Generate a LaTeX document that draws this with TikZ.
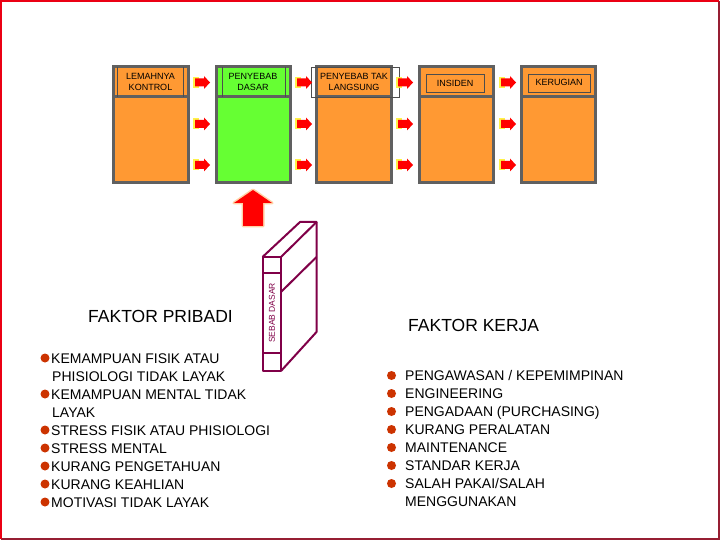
\documentclass[tikz,border=0pt]{standalone}
\usepackage{fontspec}
\setmainfont{Liberation Sans}
\definecolor{boxorange}{RGB}{255,153,51}
\definecolor{boxgreen}{RGB}{102,255,51}
\definecolor{boxgray}{RGB}{96,96,96}
\definecolor{bookc}{RGB}{128,0,72}
\definecolor{bullc}{RGB}{204,51,0}
\definecolor{frred}{RGB}{235,0,20}
\definecolor{frdark}{RGB}{150,30,50}
\definecolor{glowy}{RGB}{255,240,40}
\begin{document}
\begin{tikzpicture}[x=1pt,y=-1pt,
  box/.style={draw=boxgray, line width=3pt, fill=boxorange, minimum width=75pt, minimum height=116pt, inner sep=0pt, outer sep=0pt},
  hdr/.style={font=\fontsize{9}{11}\selectfont, align=center, inner sep=0pt},
  lst/.style={font=\fontsize{14}{18}\selectfont, anchor=base west, inner sep=0pt},
  ttl/.style={font=\fontsize{17.5}{20}\selectfont, anchor=base west, inner sep=0pt},
  bul/.style={circle, fill=bullc, minimum size=9pt, inner sep=0pt},
  thinframe/.style={draw=boxgray!80!black, line width=0.8pt},
  rarr/.pic={
    \fill[glowy, opacity=0.85] (-2.5,-5.5) rectangle (4,5.5);
    \fill[red] (0,-4) -- (9,-4) -- (9,-6.5) -- (15,0) -- (9,6.5) -- (9,4) -- (0,4) -- cycle;
  }
]
\useasboundingbox (0,0) rectangle (720,540);
\fill[white] (0,0) rectangle (720,540);
% frame
\draw[frdark, line width=2.5pt] (719,1) -- (719,539) -- (1,539);
\draw[frred, line width=2.5pt] (1,539) -- (1,1) -- (719,1);

% boxes
\node[box] (b1) at (150.5,125) {};
\node[box, fill=boxgreen, minimum width=74pt] (b2) at (253,125) {};
\node[box] (b3) at (354,125) {};
\node[box, minimum width=74pt] (b4) at (456,125) {};
\node[box, minimum width=74pt] (b5) at (558,125) {};
\foreach \b in {b1,b2,b3,b4,b5}{
  \draw[boxgray, line width=3pt] (\b.west |- 0,97) -- (\b.east |- 0,97);
}
% header frames
\draw[thinframe] (117,67) -- (117,97) (183.5,67) -- (183.5,97);
\draw[thinframe] (222.5,67) -- (222.5,97) (285,67) -- (285,97);
\draw[thinframe] (311,67) rectangle (399,97);
\draw[thinframe] (426,74) rectangle (484,92.5);
\draw[thinframe] (528,74) rectangle (590,92.5);

% header texts
\node[hdr] (t1) at (150.5,82) {LEMAHNYA\\KONTROL};
\node[hdr] (t2) at (253,82) {PENYEBAB\\DASAR};
\node[hdr] (t3) at (354,81.5) {PENYEBAB TAK\\LANGSUNG};
\node[hdr] (t4) at (455,83) {INSIDEN};
\node[hdr] (t5) at (559,82.5) {KERUGIAN};

% arrows between boxes
\foreach \x in {195,297,398,501}{
  \foreach \y in {82.5,124,165}{
    \pic at (\x,\y) {rarr};
  }
}

% up arrow
\filldraw[draw=orange!35, line width=3pt, line join=round, fill=red]
  (243,226) -- (243,203) -- (234,203) -- (253,190) -- (272,203) -- (263,203) -- (263,226) -- cycle;
\fill[red] (243,226) -- (243,203) -- (234,203) -- (253,190) -- (272,203) -- (263,203) -- (263,226) -- cycle;

% book
\begin{scope}[draw=bookc, line width=2pt, line join=round]
  \draw (262.5,257) rectangle (281,371);
  \draw (262.5,273) -- (281,273);
  \draw (262.5,353) -- (281,353);
  \draw (262.5,257) -- (300,222) -- (316.5,222) -- (281,257);
  \draw (316.5,222) -- (316.5,332) -- (281,371);
  \draw (281,292) -- (316.5,257);
\end{scope}
\node[rotate=90, font=\fontsize{8.5}{10}\selectfont, text=bookc, inner sep=0pt] (sebab) at (272,313) {SEBAB DASAR};

% titles
\node[ttl] (fp) at (88,322.3) {FAKTOR PRIBADI};
\node[ttl] (fk) at (408,331.3) {FAKTOR KERJA};

% left list
\foreach \yy/\t/\b in {358/{KEMAMPUAN FISIK ATAU}/1, 376/{PHISIOLOGI TIDAK LAYAK}/0, 394/{KEMAMPUAN MENTAL TIDAK}/1, 412/{LAYAK}/0, 430/{STRESS FISIK ATAU PHISIOLOGI}/1, 448/{STRESS MENTAL}/1, 466/{KURANG PENGETAHUAN}/1, 484/{KURANG KEAHLIAN}/1, 502/{MOTIVASI TIDAK LAYAK}/1}{
  \ifnum\b=1
    \node[bul] at (45,\yy) {};
    \node[lst] at (51,\yy+5) {\t};
  \else
    \node[lst] at (52,\yy+5) {\t};
  \fi
}

% right list
\foreach \yy/\t/\b in {375.5/{PENGAWASAN / KEPEMIMPINAN}/1, 393.5/{ENGINEERING}/1, 411.5/{PENGADAAN (PURCHASING)}/1, 429.5/{KURANG PERALATAN}/1, 447.5/{MAINTENANCE}/1, 465.5/{STANDAR KERJA}/1, 483.5/{SALAH PAKAI/SALAH}/1, 501.5/{MENGGUNAKAN}/0}{
  \ifnum\b=1
    \node[bul] at (391.5,\yy) {};
  \fi
  \node[lst] at (405,\yy+5) {\t};
}
\end{tikzpicture}
\end{document}
